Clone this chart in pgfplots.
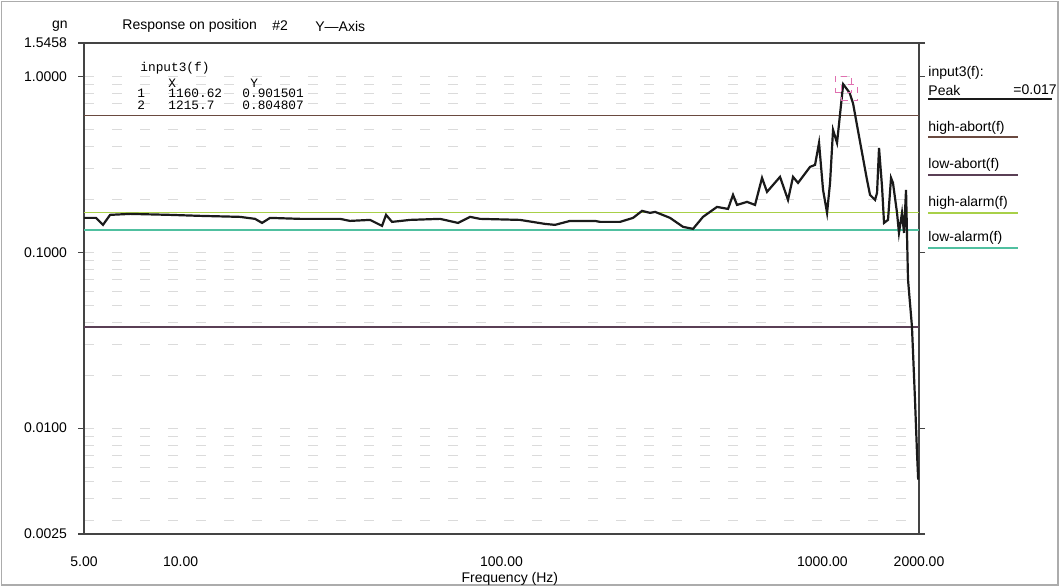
\documentclass[border=0pt]{standalone}
\usepackage{pgfplots}
\pgfplotsset{compat=1.18}
\usepackage{pgfplotstable}
\usepackage{fontspec}
\setmainfont{Liberation Sans}
\newfontfamily\monofont{Liberation Mono}
\definecolor{curvecol}{HTML}{1A1A1A}
\definecolor{highabort}{HTML}{6A4A40}
\definecolor{lowabort}{HTML}{5A3F55}
\definecolor{highalarm}{HTML}{A8D048}
\definecolor{lowalarm}{HTML}{50C0A0}
\definecolor{cursorpink}{HTML}{E070B0}
\definecolor{framecol}{HTML}{444444}

\pgfplotstableread{
f v
5.00 0.1567
5.45 0.1567
5.73 0.1430
6.03 0.1630
6.96 0.1651
9.27 0.1630
11.49 0.1609
15.31 0.1588
17.06 0.1547
17.94 0.1467
19.00 0.1567
23.55 0.1547
31.40 0.1547
33.72 0.1506
38.94 0.1526
42.43 0.1411
43.67 0.1630
45.59 0.1487
51.88 0.1526
64.34 0.1547
73.20 0.1467
79.81 0.1588
85.71 0.1547
114.2 0.1526
136.7 0.1448
146.8 0.1430
163.5 0.1506
195.6 0.1506
202.8 0.1487
234.1 0.1487
257.0 0.1567
274.1 0.1717
290.3 0.1673
300.9 0.1695
335.1 0.1567
367.9 0.1393
395.2 0.1357
424.5 0.1588
469.4 0.1809
508.0 0.1762
526.5 0.2118
541.9 0.1857
582.2 0.1932
616.6 0.1857
648.4 0.2645
672.0 0.2202
737.7 0.2680
781.3 0.1983
809.9 0.2680
839.5 0.2477
915.0 0.3054
948.4 0.3136
976.0 0.4182
1004.5 0.2261
1033.8 0.1673
1056.2 0.2477
1079.2 0.4959
1110.5 0.4182
1160.62 0.901501
1215.7 0.804807
1246 0.7000
1291 0.4900
1377 0.2576
1407 0.2118
1459 0.1983
1480 0.2174
1501 0.3917
1534 0.2351
1556 0.1467
1601 0.1526
1636 0.2645
1659 0.2477
1708 0.1673
1732 0.1287
1770 0.1673
1796 0.1287
1822 0.2261
1848 0.0700
1901 0.0378
1943 0.01455
1971 0.00727
1988 0.00510
2000 0.0058
}\resp

\begin{document}
\begin{tikzpicture}[font=\fontsize{7}{8.4}\selectfont]
\useasboundingbox (0,0) rectangle (529.5pt,293pt);
\draw[gray!65, line width=0.9pt] (0.7pt,0.7pt) rectangle (528.8pt,292.3pt);
\begin{axis}[
  at={(42pt,26pt)}, anchor=south west,
  scale only axis, width=417.5pt, height=245.5pt,
  xmode=log, ymode=log,
  xmin=5, xmax=2000, ymin=0.0025, ymax=1.5458,
  xtick={5,10,100,1000,2000},
  xticklabels={5.00,10.00,100.00,1000.00,2000.00},
  ytick={0.0025,0.01,0.1,1,1.5458},
  yticklabels={0.0025,0.0100,0.1000,1.0000,1.5458},
  xminorticks=false,
  minor ytick={0.003,0.004,0.005,0.006,0.007,0.008,0.009,0.02,0.03,0.04,0.05,0.06,0.07,0.08,0.09,0.2,0.3,0.4,0.5,0.6,0.7,0.8,0.9},
  minor tick length=0pt,
  yminorgrids=true, ymajorgrids=true,
  grid style={gray!28, dash pattern=on 5pt off 9pt, line width=0.5pt},
  minor grid style={gray!28, dash pattern=on 5pt off 9pt, line width=0.5pt},
  axis line style={draw=framecol, line width=0.7pt},
  tick align=outside,
  major tick length=3pt,
  xtick style={draw=none},
  ytick style={draw=framecol, line width=0.6pt},
  /pgf/number format/assume math mode=true,
  xticklabel style={anchor=center, yshift=-11pt},
  yticklabel style={anchor=east, xshift=-2pt},
  xlabel={Frequency (Hz)},
  xlabel style={at={(axis description cs:0.51,0)}, anchor=center, yshift=-22.5pt},
]
\addplot[draw=highabort, line width=0.8pt] coordinates {(5,0.6) (2000,0.6)};
\addplot[draw=lowabort, line width=0.8pt] coordinates {(5,0.0375) (2000,0.0375)};
\addplot[draw=highalarm, line width=0.8pt] coordinates {(5,0.1683) (2000,0.1683)};
\addplot[draw=lowalarm, line width=0.8pt] coordinates {(5,0.1337) (2000,0.1337)};
\addplot[draw=curvecol, line width=1.1pt] table[x=f,y=v]{\resp};
\addplot[only marks, mark=square, mark size=4pt, mark options={draw=cursorpink, dashed, line width=0.45pt}] coordinates {(1160.62,0.901501) (1215.7,0.804807)};
\end{axis}
% header
\node at (30pt,280pt) {gn};
\node[anchor=west, inner sep=0pt] at (61pt,280pt) {Response on position};
\node[anchor=west, inner sep=0pt] at (136pt,280pt) {\#2};
\node[anchor=west, inner sep=0pt] at (157.5pt,280pt) {Y—Axis};
% cursor table
\begin{scope}[font=\monofont\fontsize{6.4}{7.5}\selectfont, inner sep=0pt]
\node[anchor=west] at (70pt,259pt) {input3(f)};
\node[anchor=west] at (84pt,251.5pt) {X};
\node[anchor=west] at (125pt,251.5pt) {Y};
\node[anchor=west] at (68.5pt,246.5pt) {1};
\node[anchor=west] at (84pt,246.5pt) {1160.62};
\node[anchor=west] at (121pt,246.5pt) {0.901501};
\node[anchor=west] at (68.5pt,240.5pt) {2};
\node[anchor=west] at (84pt,240.5pt) {1215.7};
\node[anchor=west] at (121pt,240.5pt) {0.804807};
\end{scope}
% legend
\node[anchor=west, inner sep=0pt] at (464pt,256.5pt) {input3(f):};
\node[anchor=west, inner sep=0pt] at (464pt,248pt) {Peak};
\node[anchor=west, inner sep=0pt] at (506.5pt,248pt) {=0.017};
\draw[curvecol, line width=0.8pt] (464pt,243.5pt) -- (526pt,243.5pt);
\node[anchor=west, inner sep=0pt] at (464pt,229pt) {high-abort(f)};
\draw[highabort, line width=0.7pt] (464pt,224.5pt) -- (509pt,224.5pt);
\node[anchor=west, inner sep=0pt] at (464pt,210.5pt) {low-abort(f)};
\draw[lowabort, line width=0.7pt] (464pt,205.5pt) -- (509pt,205.5pt);
\node[anchor=west, inner sep=0pt] at (464pt,191.5pt) {high-alarm(f)};
\draw[highalarm, line width=0.7pt] (464pt,186.5pt) -- (509pt,186.5pt);
\node[anchor=west, inner sep=0pt] at (464pt,174pt) {low-alarm(f)};
\draw[lowalarm, line width=0.7pt] (464pt,169pt) -- (509pt,169pt);
\end{tikzpicture}
\end{document}
